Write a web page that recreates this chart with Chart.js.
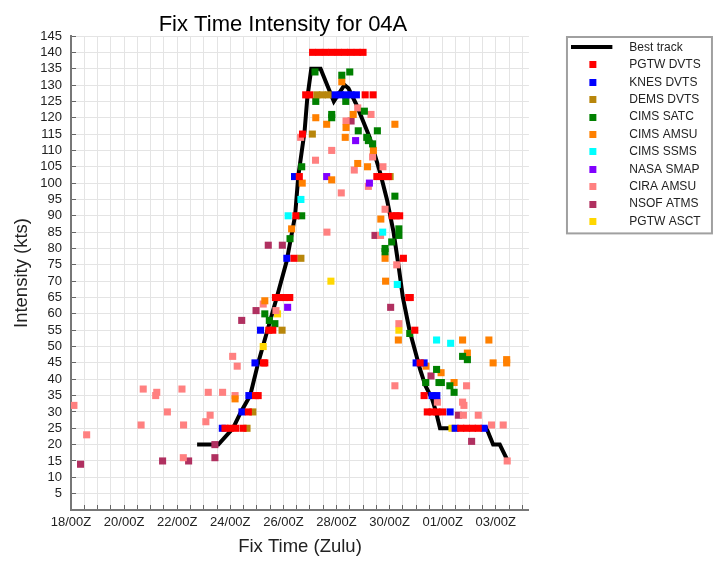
<!DOCTYPE html>
<html>
<head>
<meta charset="utf-8">
<script src="https://cdn.jsdelivr.net/npm/chart.js"></script>
<style>
  body { margin: 0; background: #fff; }
</style>
</head>
<body>
<canvas id="myChart" width="720" height="561"></canvas>
<script>
var ctx = document.getElementById('myChart').getContext('2d');

/* x = days since 18/00Z, y = intensity (kts) */
const dayLabels = ['18/00Z', '20/00Z', '22/00Z', '24/00Z', '26/00Z', '28/00Z', '30/00Z', '01/00Z', '03/00Z'];
const titleText = 'Fix Time Intensity for 04A';

const bestTrack = [[4.75,20],[5.55,20],[6.1,25],[6.4,30],[6.75,35],[7.05,45],[7.4,55],[7.75,65],[8.12,76],[8.44,90],
  [8.56,102],[8.8,116],[8.9,126],[9.05,135],[9.4,135],[9.9,125],[10.3,130],[10.45,129],[10.75,124],[11.25,114],
  [11.65,103],[11.9,95],[12.15,85],[12.35,74],[12.5,65],[12.75,55],[12.95,49],[13.15,43],[13.35,38],[13.6,34],
  [13.75,30],[13.9,25],[15.65,25],[15.9,20],[16.15,20],[16.45,15]];

const pgtwDvts = [[5.8,25],[6.0,25],[6.2,25],[6.48,25],[6.68,30],[6.95,35],[7.05,35],[7.25,45],[7.3,45],
  [7.45,55],[7.6,55],[7.7,65],[7.88,65],[8.06,65],[8.24,65],[8.4,77],[8.47,90],[8.6,102],[8.72,115],
  [8.84,127],[8.99,127],[9.1,140],[9.34,140],[9.58,140],[9.82,140],[10.06,140],[10.3,140],[10.54,140],
  [10.78,140],[11.0,140],[11.08,127],[11.38,127],[11.52,102],[11.75,102],[11.95,102],[12.1,90],[12.25,90],
  [12.38,90],[12.52,77],[12.72,65],[12.78,65],[12.95,55],[13.15,45],[13.3,35],[13.42,30],[13.6,30],
  [13.78,30],[14.0,30],[14.68,25],[14.9,25],[15.12,25],[15.34,25]];
const knesDvts = [[5.7,25],[6.44,30],[6.7,35],[6.93,45],[7.14,55],[8.13,77],[8.42,102],[9.95,127],[10.15,127],
  [10.35,127],[10.55,127],[10.75,127],[13.0,45],[13.3,45],[13.6,35],[13.78,35],[14.28,30],[14.47,25],[15.56,25]];
const demsDvts = [[6.63,25],[6.85,30],[7.95,55],[8.66,77],[9.09,115],[9.26,127],[9.47,127],[9.69,127],[12.02,102]];
const cimsSatc = [[7.3,60],[7.47,58],[7.68,57],[8.25,83],[8.69,90],[8.69,105],[9.19,134],[9.22,125],[9.82,121],
  [9.82,120],[10.2,133],[10.5,134],[10.35,125],[10.82,116],[11.05,122],[11.14,114],[11.2,113],[11.36,112],
  [11.54,116],[12.2,96],[12.35,86],[12.35,84],[12.08,82],[11.83,80],[11.83,79],[12.76,54],[13.77,43],
  [13.36,39],[13.86,39],[13.95,39],[14.27,38],[14.43,36],[14.75,47],[14.93,46]];
const cimsAmsu = [[6.18,34],[7.3,64],[8.31,86],[8.71,100],[9.22,120],[9.63,118],[9.82,101],[10.2,131],[10.33,114],
  [10.36,117],[10.63,121],[10.8,106],[11.17,105],[11.39,110],[11.67,89],[11.83,77],[11.85,70],[12.2,118],
  [12.33,52],[13.37,44],[13.94,42],[14.43,39],[14.75,52],[14.93,48],[15.74,52],[15.9,45],[16.41,46],[16.41,45]];
const cimsSsms = [[8.18,90],[8.66,95],[11.74,85],[12.29,69],[13.77,52],[14.3,51]];
const nasaSmap = [[8.16,62],[9.63,102],[10.72,113],[11.24,100]];
const ciraAmsu = [[0.11,32],[0.59,23],[2.64,26],[2.72,37],[3.19,35],[3.23,36],[3.63,30],[4.18,37],[4.23,16],
  [4.24,26],[5.08,27],[5.17,36],[5.24,29],[5.71,36],[6.09,47],[6.18,35],[6.26,44],[7.24,63],[7.72,61],
  [8.65,114],[9.21,107],[9.64,85],[9.82,110],[10.18,97],[10.36,119],[10.67,104],[10.8,123],[11.2,99],
  [11.3,121],[11.36,108],[11.66,84],[11.75,105],[11.83,92],[12.2,38],[12.27,75],[12.35,57],[13.8,33],
  [14.75,33],[14.8,32],[14.78,29],[14.9,38],[15.34,29],[15.84,26],[16.28,26],[16.43,15]];
const nsofAtms = [[0.36,14],[3.45,15],[4.43,15],[5.42,16],[5.42,20],[6.43,58],[6.97,61],[7.43,81],[7.96,81],
  [10.55,119],[11.45,84],[12.04,62],[13.56,41],[14.59,29],[15.09,21]];
const pgtwAsct = [[7.24,50],[7.78,60],[9.79,70],[12.35,55],[14.35,25]];

const fixNames = ['PGTW DVTS', 'KNES DVTS', 'DEMS DVTS', 'CIMS SATC', 'CIMS AMSU', 'CIMS SSMS', 'NASA SMAP', 'CIRA AMSU', 'NSOF ATMS', 'PGTW ASCT'];
const fixData = [pgtwDvts, knesDvts, demsDvts, cimsSatc, cimsAmsu, cimsSsms, nasaSmap, ciraAmsu, nsofAtms, pgtwAsct];
const fixColors = ['#ff0000', '#0000ff', '#b8860b', '#008000', '#ff8000', '#00ffff', '#8000ff', '#ff8080', '#b03060', '#ffd700'];

const FONT = '"Liberation Sans", Arial, sans-serif';
Chart.defaults.font.family = FONT;
Chart.defaults.color = '#222';

function toXY(pairs) {
  return pairs.map(p => ({x: p[0], y: p[1]}));
}

// legend symbols: a wide black bar for the track, small squares for the fixes
function legendIcon(color, isLine) {
  const c = document.createElement('canvas');
  c.width = 52;
  c.height = isLine ? 4 : 7;
  const g = c.getContext('2d');
  g.fillStyle = color;
  if (isLine) g.fillRect(0, 0, 41, 4);
  else g.fillRect(18, 0, 7, 7);
  return c;
}

const datasets = [{
  type: 'line',
  label: 'Best track',
  data: toXY(bestTrack),
  borderColor: '#000',
  borderWidth: 4,
  pointRadius: 0,
  tension: 0,
  order: 1
}];
fixNames.forEach((name, i) => {
  datasets.push({
    type: 'scatter',
    label: name,
    data: toXY(fixData[i]),
    pointStyle: 'rect',
    pointRadius: 5,
    pointHoverRadius: 5,
    pointBorderWidth: 0,
    backgroundColor: fixColors[i],
    borderColor: fixColors[i],
    order: 0
  });
});
const legendIcons = ['#000'].concat(fixColors).map((c, i) => legendIcon(c, i === 0));

const decorations = {
  id: 'decorations',
  beforeDraw(chart) {
    const c = chart.ctx;
    c.save();
    c.fillStyle = '#fff';
    c.fillRect(0, 0, chart.width, chart.height);
    c.restore();
  },
  afterDraw(chart) {
    const c = chart.ctx;
    const lg = chart.legend;
    const boxes = lg.legendHitBoxes;
    const last = boxes[boxes.length - 1];
    c.save();
    c.strokeStyle = '#a0a0a0';
    c.lineWidth = 2;
    c.strokeRect(lg.left + 1, lg.top + 1, 145, last.top + last.height + 5 - lg.top);
    c.fillStyle = '#000';
    c.font = '22px ' + FONT;
    c.textAlign = 'center';
    c.textBaseline = 'alphabetic';
    c.fillText(titleText, lg.left / 2, 31);
    c.restore();
  }
};

var myChart = new Chart(ctx, {
  type: 'scatter',
  data: { datasets: datasets },
  plugins: [decorations],
  options: {
    responsive: false,
    animation: false,
    devicePixelRatio: 1,
    layout: { padding: { top: 36, right: 9.3, bottom: 0, left: 0 } },
    plugins: {
      title: { display: false },
      tooltip: { enabled: false },
      legend: {
        position: 'right',
        align: 'start',
        maxWidth: 220,
        labels: {
          usePointStyle: true,
          pointStyleWidth: 52,
          padding: 5.4,
          color: '#222',
          font: { size: 12 },
          generateLabels: chart => chart.data.datasets.map((ds, i) => ({
            text: ds.label,
            pointStyle: legendIcons[i],
            datasetIndex: i,
            fontColor: '#222',
            lineWidth: 0,
            hidden: false
          }))
        }
      }
    },
    scales: {
      x: {
        type: 'linear',
        min: 0,
        max: 17.25,
        afterFit: s => { s.height = 51; },
        afterBuildTicks: s => {
          const t = [];
          for (let v = 0; v <= 17; v += 0.5) t.push({value: v});
          s.ticks = t;
        },
        grid: { color: '#e4e4e4', tickLength: -5, tickColor: '#666' },
        border: { color: '#777', width: 2 },
        ticks: {
          autoSkip: false,
          maxRotation: 0,
          padding: 10,
          font: { size: 13 },
          color: '#222',
          callback: v => (v % 2 === 0 ? dayLabels[v / 2] : '')
        },
        title: { display: true, text: 'Fix Time (Zulu)', font: { size: 18.5 }, color: '#222', padding: { top: 0, bottom: 3 } }
      },
      y: {
        min: 0,
        max: 145,
        afterFit: s => { s.width = 71; },
        grid: { color: '#e4e4e4', tickLength: -5, tickColor: '#666' },
        border: { color: '#777', width: 2 },
        ticks: {
          stepSize: 5,
          autoSkip: false,
          padding: 14,
          font: { size: 13 },
          color: '#222',
          callback: v => (v === 0 ? '' : v)
        },
        title: { display: true, text: 'Intensity (kts)', font: { size: 18.5 }, color: '#222', padding: { top: 11, bottom: 0 } }
      },
      y2: {
        position: 'right',
        display: true,
        afterFit: s => { s.width = 37; },
        grid: { display: false },
        border: { display: false },
        ticks: { display: false }
      }
    }
  }
});
</script>
</body>
</html>
